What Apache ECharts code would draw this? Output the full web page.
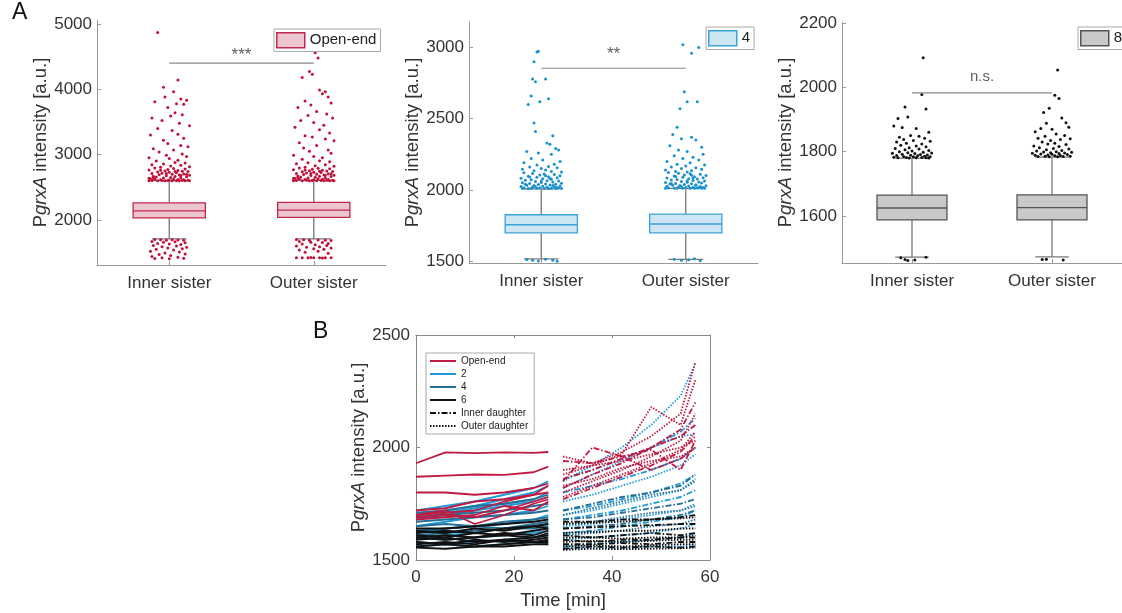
<!DOCTYPE html>
<html>
<head>
<meta charset="utf-8">
<script src="https://cdn.jsdelivr.net/npm/echarts@6/dist/echarts.min.js"></script>
<style>
html, body { margin: 0; padding: 0; background: #fff; }
#chart { width: 1122px; height: 613px; }
</style>
</head>
<body>
<div id="chart"></div>
<script>
// ---- panel A data: box stats are [lowWhisker, q1, median, q3, highWhisker]
const sisters = ["Inner sister", "Outer sister"];
const boxOpen = [[1709, 2030, 2138, 2262, 2600], [1709, 2040, 2150, 2268, 2605]];
const box4 = [[1515, 1698, 1755, 1825, 2007], [1512, 1698, 1760, 1830, 2010]];
const box8 = [[1472, 1588, 1625, 1665, 1780], [1473, 1588, 1626, 1666, 1783]];
const sigY = [4400, 2855, 1983];
const sigText = ["***", "**", "n.s."];
const legendA = ["Open-end", "4", "8"];
const yTicksA = [[2000, 3000, 4000, 5000], [1500, 2000, 2500, 3000], [1600, 1800, 2000, 2200]];

// outliers: [x offset in 1/100 of a category, value]
const outOpenInner = [[-8,4870],[6,4140],[-4,4030],[3,3960],[-10,3810],[-3,3880],[8,3850],[12,3830],[5,3780],[10,3770],[-1,3720],[4,3640],[9,3610],[-12,3560],[1,3590],[-5,3520],[7,3480],[14,3440],[-8,3400],[2,3370],[-13,3300],[6,3310],[10,3250],[-4,3220],[-1,3170],[8,3140],[13,3120],[-11,3090],[3,3070],[-7,3040],[9,3010],[-2,2990],[12,2970],[-14,2950],[0,2940],[6,2915],[-9,2900],[4,2880],[11,2870],[-4,2855],[-12,2845],[8,2835],[1,2825],[14,2815],[-6,2805],
  [-10,2795],[3,2788],[11,2780],[-1,2772],[-14,2765],[6,2758],[-3,2750],[9,2745],[13,2740],[-8,2735],[0,2728],[5,2722],[-5,2716],[-12,2710],[10,2704],[2,2698],[-7,2692],[7,2688],[14,2682],[-2,2676],[-11,2670],[4,2666],[12,2662],[-9,2656],[1,2650],[8,2646],[-4,2642],[-14,2638],[-13,2632],[3,2628],[-10,2624],[6,2620],[-6,2616],[0,2612],[9,2608],[13,2606],[-1,2604],[-12,2602],[5,2601],[-3,2600],[11,2600],[-8,2600],[7,2600],[2,2600],[-14,2600],[14,2600],[-5,2605],[10,2615],[-11,2640],[12,2700],[-6,2760],[4,2740],[-2,2710],[8,2680],
  [-10,1700],[-6,1695],[-2,1690],[2,1698],[6,1692],[10,1688],[-12,1670],[-4,1660],[4,1665],[11,1650],[-8,1640],[0,1630],[8,1625],[-11,1610],[5,1600],[-5,1590],[12,1580],[-1,1570],[9,1560],[-9,1550],[3,1540],[-13,1520],[7,1510],[-3,1495],[11,1480],[-7,1470],[1,1455],[-12,1440],[6,1430],[-5,1420],[10,1415],[-10,1410],[0,1405]];
const outOpenOuter = [[1,4560],[3,4480],[-3,4270],[-1,4230],[-8,4180],[4,3990],[8,3960],[-6,3820],[-2,3760],[6,3930],[10,3880],[12,3790],[-11,3720],[2,3660],[9,3620],[-4,3600],[13,3560],[-9,3520],[0,3490],[7,3450],[-13,3420],[4,3380],[11,3330],[-6,3290],[-1,3270],[8,3240],[14,3210],[-10,3180],[2,3140],[-7,3100],[10,3070],[-3,3050],[12,3020],[-14,2990],[0,2970],[6,2950],[-8,2930],[4,2905],[11,2890],[-4,2875],[-12,2860],[8,2845],[1,2830],[14,2820],[-6,2808],
  [-10,2796],[3,2790],[11,2782],[-1,2775],[-14,2768],[6,2760],[-3,2753],[9,2747],[13,2741],[-8,2736],[0,2730],[5,2724],[-5,2718],[-12,2712],[10,2706],[2,2700],[-7,2694],[7,2689],[14,2684],[-2,2678],[-11,2672],[4,2667],[12,2663],[-9,2657],[1,2652],[8,2647],[-4,2643],[-14,2639],[-13,2633],[3,2629],[-10,2625],[6,2621],[-6,2617],[0,2613],[9,2609],[13,2607],[-1,2605],[-12,2603],[5,2602],[-3,2601],[11,2601],[-8,2601],[7,2601],[2,2601],[-14,2601],[14,2601],[-5,2606],[10,2618],[-11,2645],[12,2705],[-6,2765],[4,2745],[-2,2712],[8,2685],
  [-12,1700],[-7,1696],[-3,1690],[3,1694],[8,1690],[12,1686],[-10,1668],[-2,1660],[6,1655],[10,1640],[-8,1630],[1,1620],[9,1610],[-12,1600],[4,1590],[-5,1580],[12,1570],[0,1560],[7,1550],[-10,1540],[3,1520],[-6,1505],[10,1490],[-12,1420],[-8,1420],[-4,1420],[0,1420],[4,1420],[8,1420],[12,1420],[-2,1425],[6,1418]];
const out4Inner = [[-3,2970],[-2,2975],[-5,2900],[-6,2780],[-4,2760],[3,2780],[-7,2660],[-1,2620],[5,2640],[-9,2600],[-5,2470],[-4,2410],[8,2380],[4,2330],[6,2320],[10,2290],[-10,2270],[-2,2260],[12,2280],[7,2250],[-7,2220],[1,2210],[13,2200],[-12,2190],[9,2180],[-3,2175],[5,2165],[-8,2160],[11,2155],[0,2150],[-13,2145],[3,2140],[-5,2135],[7,2130],[14,2125],
  [-12,2120],[-6,2115],[2,2112],[9,2108],[-1,2104],[13,2100],[-9,2096],[5,2092],[-3,2088],[11,2085],[-14,2082],[1,2078],[7,2075],[-7,2072],[-11,2068],[4,2065],[12,2062],[-4,2058],[8,2055],[0,2052],[-13,2050],[14,2047],[-8,2044],[3,2042],[10,2040],[-2,2037],[6,2035],[-10,2032],[-5,2030],[13,2028],[1,2026],[-14,2024],[9,2022],[-6,2020],[4,2018],[11,2016],[-1,2015],[-12,2013],[7,2012],[-3,2011],[14,2010],[-9,2010],[2,2010],[-7,2010],[10,2010],[5,2010],[-13,2010],[12,2014],[-4,2022],[8,2030],[-11,2040],[0,2062],[6,2080],[-8,2090],[3,2100],
  [-10,1510],[-6,1505],[-2,1500],[3,1512],[8,1505],[11,1498]];
const out4Outer = [[-2,3020],[4,2960],[9,3000],[-1,2690],[1,2620],[8,2620],[-4,2570],[-6,2440],[-9,2390],[-3,2360],[4,2370],[7,2350],[11,2300],[-11,2310],[-5,2280],[1,2270],[12,2250],[-8,2240],[5,2230],[-2,2220],[9,2210],[-13,2200],[3,2190],[-6,2180],[13,2175],[0,2168],[-10,2160],[7,2155],[-3,2150],[11,2145],[-14,2140],[4,2135],[-7,2130],[1,2125],
  [-12,2122],[-5,2117],[3,2113],[10,2109],[-1,2105],[14,2101],[-8,2097],[6,2093],[-2,2089],[12,2086],[-13,2083],[2,2079],[8,2076],[-6,2073],[-10,2069],[5,2066],[13,2063],[-3,2059],[9,2056],[1,2053],[-14,2051],[11,2048],[-7,2045],[4,2043],[-11,2041],[-1,2038],[7,2036],[-9,2033],[-4,2031],[14,2029],[2,2027],[-13,2025],[10,2023],[-5,2021],[5,2019],[12,2017],[0,2016],[-12,2014],[8,2013],[-2,2012],[13,2011],[-8,2011],[3,2011],[-6,2011],[11,2011],[6,2011],[-14,2011],[9,2015],[-3,2024],[7,2033],[-10,2044],[1,2064],[5,2083],[-7,2094],[4,2102],
  [-8,1512],[-3,1505],[2,1508],[6,1515],[10,1502]];
const out8Inner = [[8,2092],[7,1978],[-5,1939],[10,1933],[-10,1903],[-3,1908],[-7,1875],[3,1872],[-13,1880],[12,1860],[-1,1850],[5,1848],[-9,1845],[9,1842],[-6,1838],[1,1835],[-11,1830],[13,1832],[-4,1826],[7,1824],[-8,1820],[3,1818],[10,1815],[-2,1812],[-12,1810],[5,1808],[-5,1806],[12,1804],[0,1802],[-9,1800],[8,1798],[-3,1797],[14,1796],[-14,1795],[2,1794],[-7,1792],[6,1791],[11,1790],[-1,1789],[-11,1788],[4,1787],[9,1786],[-6,1785],[1,1784],[13,1784],[-13,1783],[-4,1782],[7,1782],[-10,1781],[3,1781],[10,1781],[-2,1780],[12,1780],
  [-5,1465],[-3,1462],[2,1463],[10,1472],[-8,1470]];
const out8Outer = [[4,2054],[2,1975],[5,1965],[-6,1922],[-2,1935],[7,1905],[-4,1888],[-8,1872],[10,1890],[12,1876],[-12,1862],[0,1870],[3,1855],[-5,1848],[9,1850],[-10,1842],[6,1838],[-1,1835],[13,1840],[-7,1830],[2,1826],[-3,1824],[10,1822],[-13,1818],[5,1816],[-9,1812],[1,1810],[12,1808],[-4,1806],[7,1804],[-11,1802],[3,1800],[-6,1799],[14,1798],[-1,1797],[9,1796],[-14,1795],[5,1794],[-8,1793],[0,1792],[11,1791],[-3,1790],[-12,1789],[6,1788],[2,1787],[-5,1786],[13,1786],[-10,1785],[8,1785],[-2,1784],[4,1784],
  [-7,1465],[-4,1466],[8,1463]];

// ---- panel B data: time points and traces
const tLeft = [0, 6, 12, 18, 24, 27];
const tRight = [30, 36, 42, 48, 54, 57];
const openLeft = [[1930,1978,1975,1978,1976,1980],[1870,1875,1880,1878,1890,1915],[1800,1800,1790,1800,1820,1840],[1700,1710,1720,1760,1790,1800],[1690,1700,1690,1720,1760,1780],[1720,1730,1760,1770,1790,1830],[1680,1690,1700,1740,1720,1760],[1700,1720,1660,1700,1750,1770]];
const twoLeft = [[1720,1740,1760,1790,1820,1850],[1700,1720,1740,1770,1800,1830],[1690,1710,1730,1750,1770,1800],[1680,1700,1720,1740,1760,1780],[1650,1670,1690,1700,1720,1740],[1620,1640,1650,1660,1680,1700],[1600,1610,1620,1640,1650,1660],[1580,1570,1580,1590,1600,1610],[1560,1570,1560,1570,1580,1570],[1600,1590,1600,1610,1620,1630]];
const fourLeft = [[1710,1720,1740,1750,1770,1790],[1690,1700,1710,1720,1740,1750],[1670,1680,1690,1700,1710,1720],[1650,1660,1650,1670,1680,1690],[1630,1640,1650,1640,1660,1670],[1610,1620,1630,1640,1640,1650]];
const sixLeft = [[1640,1640,1650,1660,1670,1680],[1620,1630,1620,1640,1650,1660],[1610,1600,1620,1610,1630,1640],[1600,1590,1600,1610,1600,1620],[1590,1600,1580,1590,1600,1610],[1580,1570,1590,1580,1590,1600],[1570,1580,1570,1590,1580,1590],[1560,1570,1560,1570,1580,1580],[1555,1550,1560,1560,1570,1570],[1600,1610,1600,1620,1610,1630],[1630,1620,1640,1630,1650,1640]];
const openInner = [[1940,1930,1960,1990,1900,2030],[1860,1900,1950,2000,2050,2100],[1820,1880,1930,2000,2080,2200],[1770,1820,1870,1920,1980,2050],[1850,2000,1960,1900,1950,2000]];
const openOuter = [[1960,1930,1980,2050,2150,2380],[1880,1920,1970,2180,2100,2300],[1800,1850,1900,1960,2030,2150],[1780,1830,1880,1930,1990,2070],[1900,1920,1940,1970,2000,2030],[1830,1860,1910,1940,1960,2000]];
const twoInner = [[1860,1900,1950,2000,2070,2130],[1800,1830,1860,1900,1950,2000],[1720,1740,1770,1800,1840,1880],[1680,1700,1720,1750,1780,1810],[1620,1630,1650,1670,1690,1720],[1560,1570,1580,1590,1600,1620]];
const twoOuter = [[1850,1920,2000,2100,2230,2370],[1820,1880,1940,2000,2050,2060],[1760,1790,1830,1870,1920,1970],[1700,1720,1750,1780,1810,1860],[1650,1660,1680,1700,1720,1750],[1590,1600,1610,1620,1640,1660],[1550,1555,1550,1560,1560,1570]];
const fourInner = [[1720,1750,1780,1800,1830,1880],[1680,1690,1710,1730,1750,1770],[1640,1650,1660,1680,1700,1720]];
const fourOuter = [[1700,1730,1760,1790,1810,1850],[1660,1670,1690,1710,1720,1740],[1610,1620,1630,1650,1660,1680]];
const sixInner = [[1670,1670,1680,1680,1690,1700],[1640,1645,1650,1655,1660,1660],[1610,1600,1610,1620,1610,1620],[1590,1580,1590,1590,1600,1600],[1570,1570,1575,1570,1580,1580],[1550,1560,1555,1560,1555,1560]];
const sixOuter = [[1660,1665,1670,1680,1685,1690],[1620,1625,1630,1630,1640,1640],[1600,1600,1595,1600,1600,1610],[1580,1585,1580,1585,1590,1590],[1560,1565,1560,1565,1570,1570],[1545,1550,1548,1550,1552,1555]];

const font = "'Liberation Sans', Arial, sans-serif";
const txt = "#333";
const axisGray = "#999";
const whisk = "#777";
const C_OPEN = "#c01a43", C_2 = "#1e9bd7", C_4 = "#236f95", C_6 = "#111";
const plain = (v) => String(v);

const chart = echarts.init(document.getElementById("chart"));

const yName = (gap) => ({
  name: "{n|P}{i|grxA}{n| intensity [a.u.]}",
  nameLocation: "middle",
  nameRotate: 90,
  nameGap: gap,
  nameTextStyle: {
    rich: {
      n: { fontSize: 18.5, fontFamily: font, color: txt },
      i: { fontSize: 18.5, fontFamily: font, color: txt, fontStyle: "italic" },
    },
  },
});

// panel A layout
const panelsA = [
  { left: 97, top: 20, height: 245, min: 1310, max: 5060, fill: "#ebc6cf", border: "#c2284e", dot: "#c0103a", sigDist: -1, sigSize: 17, legendLeft: 274, legendTop: 29, box: boxOpen, inner: outOpenInner, outer: outOpenOuter },
  { left: 469, top: 22, height: 241, min: 1486, max: 3180, fill: "#cde6f3", border: "#3aa3d9", dot: "#1a90cc", sigDist: 5, sigSize: 17, legendLeft: 706, legendTop: 27, box: box4, inner: out4Inner, outer: out4Outer },
  { left: 842, top: 22, height: 241, min: 1454, max: 2203, fill: "#c9c9c9", border: "#555", dot: "#111", sigDist: 8, sigSize: 15, legendLeft: 1078, legendTop: 27, box: box8, inner: out8Inner, outer: out8Outer },
];

const grids = [], xAxes = [], yAxes = [], series = [], legends = [];

function boxRenderer(fill, border) {
  return function (params, api) {
    const c = api.value(0);
    const lo = api.value(1), q1 = api.value(2), md = api.value(3), q3 = api.value(4), hi = api.value(5);
    const p = (dx, v) => api.coord([c + dx, v]);
    const seg = (a, b, stroke) => ({ type: "line", shape: { x1: a[0], y1: a[1], x2: b[0], y2: b[1] }, style: { stroke, lineWidth: 1.3 } });
    const tl = p(-0.25, q3), br = p(0.25, q1);
    return {
      type: "group",
      children: [
        seg(p(0, lo), p(0, q1), whisk),
        seg(p(0, q3), p(0, hi), whisk),
        seg(p(-0.12, lo), p(0.12, lo), whisk),
        seg(p(-0.12, hi), p(0.12, hi), whisk),
        { type: "rect", shape: { x: tl[0], y: tl[1], width: br[0] - tl[0], height: br[1] - tl[1] }, style: { fill, stroke: border, lineWidth: 1.3 } },
        seg(p(-0.25, md), p(0.25, md), border),
      ],
    };
  };
}

const jitter = (arr, c) => arr.map(([d, v]) => [c + d / 100, v]);

panelsA.forEach((pa, i) => {
  grids.push({ left: pa.left, top: pa.top, width: 289, height: pa.height });
  xAxes.push({
    type: "value", gridIndex: i, min: 0.5, max: 2.5,
    splitLine: { show: false },
    axisLine: { lineStyle: { color: axisGray } },
    axisTick: { inside: true, length: 4, customValues: [1, 2], lineStyle: { color: axisGray } },
    axisLabel: { customValues: [1, 2], formatter: (v) => sisters[Math.round(v) - 1], fontSize: 17, fontFamily: font, color: txt, margin: 10 },
  });
  yAxes.push({
    type: "value", gridIndex: i, min: pa.min, max: pa.max,
    splitLine: { show: false },
    axisLine: { show: true, lineStyle: { color: axisGray } },
    axisTick: { show: true, inside: true, length: 4, customValues: yTicksA[i], lineStyle: { color: axisGray } },
    axisLabel: { customValues: yTicksA[i], formatter: plain, fontSize: 17, fontFamily: font, color: txt, margin: 5 },
    ...yName(45),
  });
  const boxName = "box" + i;
  series.push({
    type: "custom", name: boxName, xAxisIndex: i, yAxisIndex: i,
    data: pa.box.map((s, k) => [k + 1, ...s]),
    encode: { x: 0, y: [1, 2, 3, 4, 5] },
    itemStyle: { color: pa.fill, borderColor: pa.border },
    renderItem: boxRenderer(pa.fill, pa.border),
    z: 2,
  });
  series.push({
    type: "scatter", xAxisIndex: i, yAxisIndex: i, symbolSize: 3,
    itemStyle: { color: pa.dot, opacity: 1 },
    data: jitter(pa.inner, 1).concat(jitter(pa.outer, 2)),
    z: 3,
  });
  series.push({
    type: "line", xAxisIndex: i, yAxisIndex: i, symbol: "none",
    lineStyle: { color: "#8a8a8a", width: 1.2 },
    data: [[1, sigY[i]], [2, sigY[i]]],
    z: 4,
  });
  series.push({
    type: "scatter", xAxisIndex: i, yAxisIndex: i, symbolSize: 1,
    itemStyle: { color: "rgba(0,0,0,0)" },
    data: [[1.5, sigY[i]]],
    label: { show: true, position: "top", distance: pa.sigDist, formatter: sigText[i], fontSize: pa.sigSize, fontFamily: font, color: txt },
    z: 4,
  });
  legends.push({
    data: [boxName], formatter: () => legendA[i],
    left: pa.legendLeft, top: pa.legendTop, icon: "rect",
    itemWidth: 28, itemHeight: 15, padding: [3, 4, 3, 2],
    borderColor: "#aaa", borderWidth: 1, backgroundColor: "#fff", borderRadius: 0,
    selectedMode: false,
    textStyle: { fontSize: 15, fontFamily: font, color: "#222" },
    itemStyle: { color: pa.fill, borderColor: pa.border, borderWidth: 1.5 },
  });
});

// panel B
grids.push({ left: 416, top: 335, width: 294, height: 225 });
const bAxisLine = { show: true, lineStyle: { color: "#888" } };
xAxes.push({
  type: "value", gridIndex: 3, min: 0, max: 60, interval: 20,
  splitLine: { show: false }, axisLine: { ...bAxisLine, onZero: false },
  axisTick: { inside: true, length: 4, lineStyle: { color: "#888" } },
  axisLabel: { formatter: plain, fontSize: 17, fontFamily: font, color: txt, margin: 9 },
  name: "Time [min]", nameLocation: "middle", nameGap: 31,
  nameTextStyle: { fontSize: 18.5, fontFamily: font, color: txt },
});
xAxes.push({
  type: "value", gridIndex: 3, position: "top", min: 0, max: 60, interval: 20,
  splitLine: { show: false }, axisLine: { ...bAxisLine, onZero: false },
  axisTick: { inside: true, length: 3, lineStyle: { color: "#888" } }, axisLabel: { show: false },
});
yAxes.push({
  type: "value", gridIndex: 3, min: 1500, max: 2500, interval: 500,
  splitLine: { show: false }, axisLine: { ...bAxisLine, onZero: false },
  axisTick: { show: true, inside: true, length: 4, lineStyle: { color: "#888" } },
  axisLabel: { formatter: plain, fontSize: 17, fontFamily: font, color: txt, margin: 6 },
  ...yName(46),
});
yAxes.push({
  type: "value", gridIndex: 3, position: "right", min: 1500, max: 2500, interval: 500,
  splitLine: { show: false }, axisLine: { ...bAxisLine, onZero: false },
  axisTick: { show: true, inside: true, length: 3, lineStyle: { color: "#888" } }, axisLabel: { show: false },
});

const DASH_INNER = [6, 2, 1.5, 2];
const DASH_OUTER = [1.5, 1.5];
const traceGroups = [
  { name: "2", color: C_2, left: twoLeft, inner: twoInner, outer: twoOuter },
  { name: "4", color: C_4, left: fourLeft, inner: fourInner, outer: fourOuter },
  { name: "Open-end", color: C_OPEN, left: openLeft, inner: openInner, outer: openOuter },
  { name: "6", color: C_6, left: sixLeft, inner: sixInner, outer: sixOuter },
];
const traceSeries = (name, color, t, vals, type) => ({
  type: "line", name, xAxisIndex: 3, yAxisIndex: 3, symbol: "none",
  lineStyle: { color, width: 1.8, type },
  itemStyle: { color },
  data: t.map((x, k) => [x, vals[k]]),
});
traceGroups.forEach((g) => {
  g.left.forEach((v) => series.push(traceSeries(g.name, g.color, tLeft, v, "solid")));
  g.inner.forEach((v) => series.push(traceSeries(g.name, g.color, tRight, v, DASH_INNER)));
  g.outer.forEach((v) => series.push(traceSeries(g.name, g.color, tRight, v, DASH_OUTER)));
});
series.push(traceSeries("Inner daughter", "#111", [], [], DASH_INNER));
series.push(traceSeries("Outer daughter", "#111", [], [], DASH_OUTER));

legends.push({
  data: ["Open-end", "2", "4", "6", "Inner daughter", "Outer daughter"],
  orient: "vertical", left: 426, top: 353,
  itemWidth: 26, itemHeight: 10, itemGap: 3, padding: [3, 6, 3, 3],
  borderColor: "#aaa", borderWidth: 1, backgroundColor: "#fff",
  selectedMode: false,
  itemStyle: { opacity: 0 },
  lineStyle: { width: 2 },
  textStyle: { fontSize: 10, fontFamily: font, color: "#222" },
});

chart.setOption({
  animation: false,
  backgroundColor: "#fff",
  textStyle: { fontFamily: font },
  grid: grids,
  xAxis: xAxes,
  yAxis: yAxes,
  legend: legends,
  series,
  graphic: [
    { type: "text", left: 12, top: 1, style: { text: "A", fontSize: 23, fontFamily: font, fill: "#111" } },
    { type: "text", left: 313, top: 320, style: { text: "B", fontSize: 23, fontFamily: font, fill: "#111" } },
  ],
});
</script>
</body>
</html>
